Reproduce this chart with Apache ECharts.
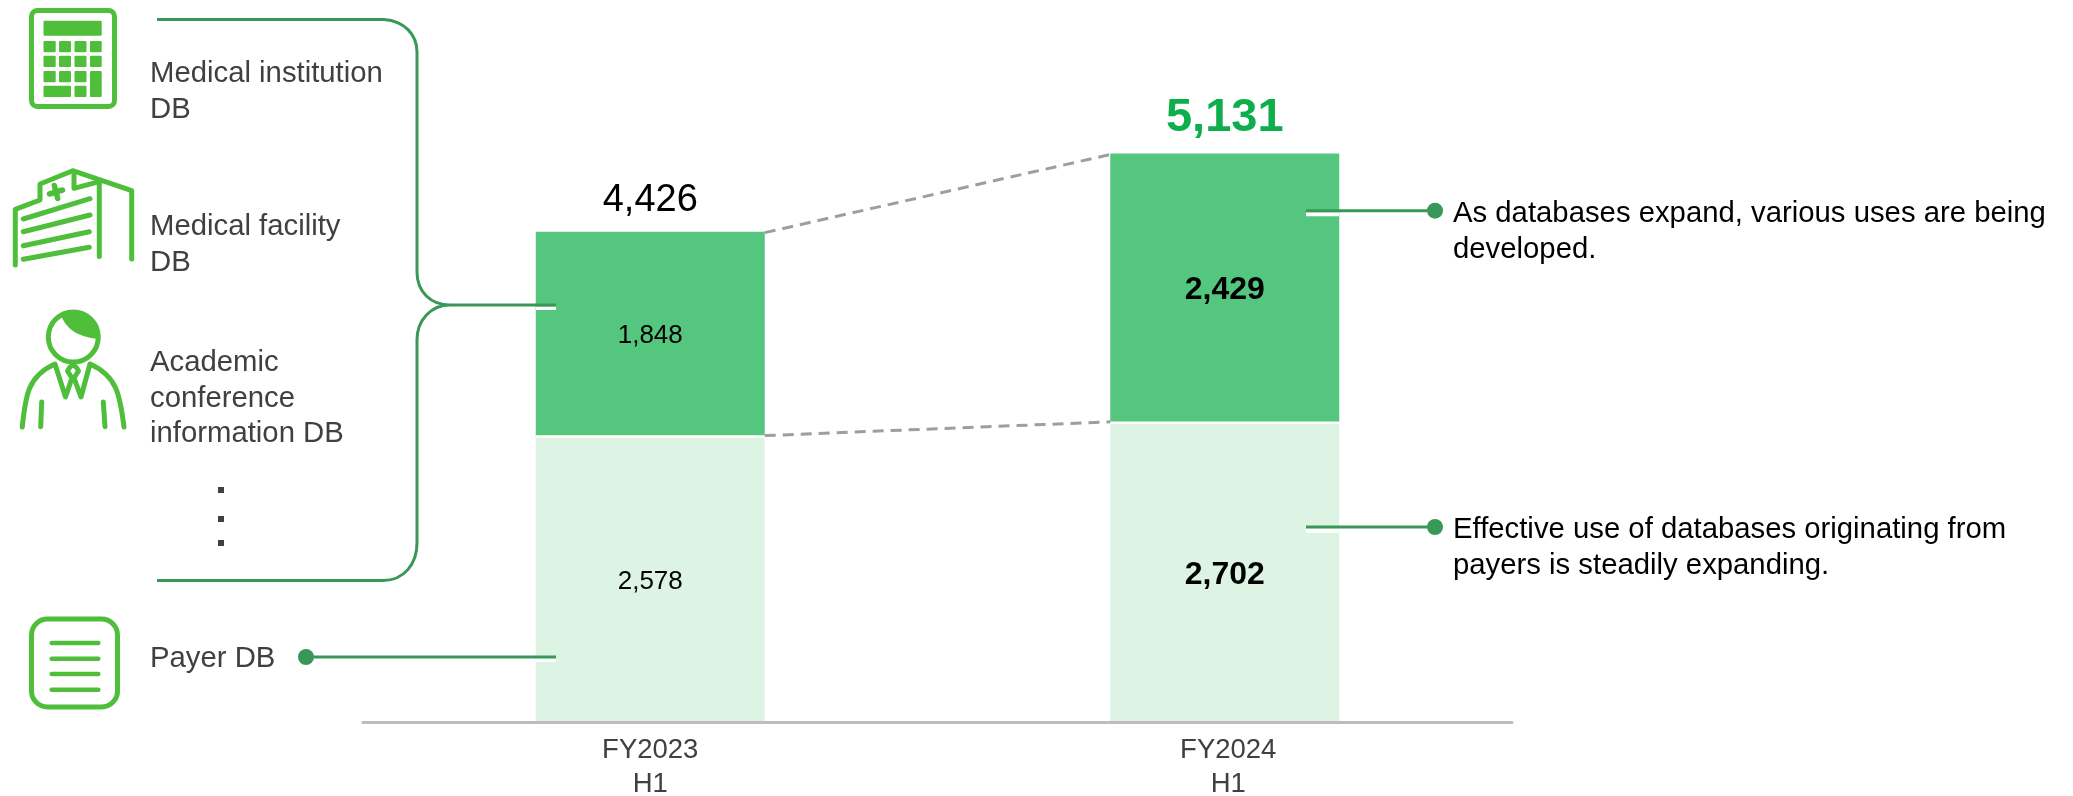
<!DOCTYPE html>
<html lang="en">
<head>
<meta charset="utf-8">
<title>Database revenue by half year</title>
<script src="https://cdn.jsdelivr.net/npm/echarts@6/dist/echarts.min.js"></script>
<style>
  html, body { margin: 0; padding: 0; background: #fff; }
  #chart { width: 2073px; height: 796px; }
</style>
</head>
<body>
<div id="chart"></div>
<script>
// Half-year figures
const categories = ['FY2023\nH1', 'FY2024\nH1'];
const payerDb = [2578, 2702];
const otherDb = [1848, 2429];

// Side captions
const leftCaptions = ['Medical institution\nDB', 'Medical facility\nDB', 'Academic\nconference\ninformation DB', 'Payer DB'];
const rightCaptions = [
  'As databases expand, various uses are being\ndeveloped.',
  'Effective use of databases originating from\npayers is steadily expanding.'
];

const totals = categories.map((_, i) => payerDb[i] + otherDb[i]);

const FONT = '"Liberation Sans", Arial, sans-serif';
const BAR_WIDTH = 229;
const ICON = '#4fbe3a';
const LEAD = '#389858';
const TEXT = '#404040';

const number = v => v.toLocaleString('en-US');

// Values in the later period are set in bold
const barData = values => values.map((v, i) => ({
  value: v,
  label: { fontSize: i === 1 ? 32 : 26, fontWeight: i === 1 ? 'bold' : 'normal' }
}));

const segment = (name, values, color) => ({
  name,
  type: 'bar',
  stack: 'db',
  barWidth: BAR_WIDTH,
  data: barData(values),
  itemStyle: { color },
  label: {
    show: true,
    position: 'inside',
    offset: [0, 2],
    color: '#000',
    fontFamily: FONT,
    formatter: p => number(p.value)
  },
  z: 2
});

// White hairline separating the two segments of each stack
const dividerSeries = {
  type: 'custom',
  coordinateSystem: 'cartesian2d',
  silent: true,
  z: 3,
  data: categories.map((_, i) => [i, payerDb[i]]),
  renderItem(params, api) {
    const p = api.coord([api.value(0), api.value(1)]);
    return {
      type: 'line',
      shape: { x1: p[0] - BAR_WIDTH / 2, y1: p[1], x2: p[0] + BAR_WIDTH / 2, y2: p[1] },
      style: { stroke: '#fff', lineWidth: 2.5, fill: null }
    };
  }
};

// Dashed guides between the tops of matching stack segments
const connectorSeries = {
  type: 'custom',
  coordinateSystem: 'cartesian2d',
  clip: false,
  silent: true,
  z: 3,
  data: [
    [0, totals[0], totals[1]],
    [0, payerDb[0], payerDb[1]]
  ],
  renderItem(params, api) {
    const a = api.coord([0, api.value(1)]);
    const b = api.coord([1, api.value(2)]);
    const nudge = params.dataIndex === 0 ? 1 : -1;
    return {
      type: 'line',
      shape: { x1: a[0] + BAR_WIDTH / 2, y1: a[1] + nudge, x2: b[0] - BAR_WIDTH / 2, y2: b[1] + nudge },
      style: { stroke: '#9e9e9e', lineWidth: 3, lineDash: [11, 7], fill: null }
    };
  }
};

// Transparent points that carry the totals above each stack
const totalSeries = {
  type: 'scatter',
  symbolSize: 1,
  silent: true,
  itemStyle: { color: 'transparent', opacity: 1 },
  z: 4,
  data: [
    { value: totals[0], label: { fontSize: 38, color: '#000', fontWeight: 'normal', distance: 12 } },
    { value: totals[1], label: { fontSize: 47, color: '#0dae4b', fontWeight: 'bold', distance: 11 } }
  ],
  label: { show: true, position: 'top', fontFamily: FONT, formatter: p => number(totals[p.dataIndex]) }
};

const stroke = (color, lineWidth) => ({ stroke: color, lineWidth, fill: null, lineCap: 'round', lineJoin: 'round' });
const line = (x1, y1, x2, y2, color, w, cap) => ({
  type: 'line', shape: { x1, y1, x2, y2 },
  style: { stroke: color, lineWidth: w, lineCap: cap || 'round' }
});
const box = (x, y, width, height, fill, r) => ({
  type: 'rect', shape: { x, y, width, height, r: r || 0 }, style: { fill }
});

// SVG outlines registered as shapes for the graphic component
const shapeOutlines = {
  personHair: 'M61 315 Q68 336 98 339 A25 25 0 0 0 61 315 Z',
  personSuit: 'M22.3 427 C25.5 395 28 376 55 364 L65.5 397 L72 378 L67.5 371 Q73 360 78.5 371 L74 378 L81 397 L90 364 C117 376 120 395 124 427',
  groupBracket: 'M157 19.5 L384 19.5 C404 21 417 34 417 52 L417 272 C417 292 431 305 450 305 C431 305 417 320 417 340 L417 543 C417 564 404 580.5 383 580.5 L157 580.5'
};
Object.keys(shapeOutlines).forEach(name => {
  echarts.graphic.registerShape(name, echarts.graphic.extendPath(shapeOutlines[name], {}));
});

// Calculator icon
const calculatorIcon = () => {
  const cols = [[43.5, 12.2], [59, 12], [74.5, 12], [90, 11.7]];
  const rows = [[41, 11.3], [55.7, 11.3], [71, 11.3]];
  const parts = [
    { type: 'rect', shape: { x: 31.5, y: 10.5, width: 83, height: 96, r: 6 }, style: stroke(ICON, 5) },
    box(43.5, 20.7, 58.2, 15, ICON, 1)
  ];
  rows.forEach(([y, h], ri) => cols.forEach(([x, w], ci) => {
    if (ri === 2 && ci === 3) return;
    parts.push(box(x, y, w, h, ICON, 1));
  }));
  parts.push(box(90, 71, 11.7, 26, ICON, 1));
  parts.push(box(43.5, 85.7, 27.5, 11.3, ICON, 1));
  parts.push(box(74.5, 85.7, 12, 11.3, ICON, 1));
  return parts;
};

// Hospital building icon
const hospitalIcon = () => [
  { type: 'polyline', shape: { points: [[15.3, 265], [15.3, 209.3], [40, 200], [40, 184], [72.7, 170.7], [131.7, 190.7], [131.7, 259]] }, style: stroke(ICON, 5) },
  line(99.3, 256.5, 99.3, 182.7, ICON, 5),
  { type: 'polyline', shape: { points: [[74, 171.7], [74, 188.3], [99.3, 181.7]] }, style: stroke(ICON, 5) },
  line(23.3, 219, 90, 198.7, ICON, 5),
  line(23.3, 231.7, 90, 215, ICON, 5),
  line(23.3, 245.7, 89.3, 231.7, ICON, 5),
  line(23.3, 259.3, 89.3, 247.3, ICON, 5),
  line(49.5, 194, 62.5, 190, ICON, 5.5),
  line(54.3, 185.5, 57.7, 198.5, ICON, 5.5)
];

// Person icon
const personIcon = () => [
  { type: 'circle', shape: { cx: 73.3, cy: 337, r: 25 }, style: stroke(ICON, 5) },
  { type: 'personHair', style: { fill: ICON } },
  { type: 'personSuit', style: stroke(ICON, 5) },
  line(41.7, 402, 40.7, 426.7, ICON, 5),
  line(103.3, 402, 105, 426.7, ICON, 5)
];

// Document icon
const documentIcon = () => [
  { type: 'rect', shape: { x: 31.5, y: 619, width: 86, height: 88, r: 16 }, style: stroke(ICON, 5) },
  ...[643, 658.7, 674, 689.7].map(y => line(51.7, y, 98.3, y, ICON, 4.5))
];

const caption = (text, x, y, fill, lineHeight) => ({
  type: 'text',
  x, y,
  style: {
    text,
    fill,
    font: '29.3px ' + FONT,
    lineHeight,
    align: 'left',
    verticalAlign: 'top'
  }
});

// Leader line with a round end and a white notch cut into the bar below it
const leader = (x1, x2, y, notchX, notchW, notchY, notchH, dotX) => {
  const parts = [
    box(notchX, notchY, notchW, notchH, '#fff'),
    line(x1, y, x2, y, LEAD, 3, 'butt')
  ];
  if (dotX !== undefined) {
    parts.push({ type: 'circle', shape: { cx: dotX, cy: y, r: 8 }, style: { fill: LEAD } });
  }
  return parts;
};

const graphicElements = [
  ...calculatorIcon(),
  ...hospitalIcon(),
  ...personIcon(),
  ...documentIcon(),
  { type: 'groupBracket', style: { stroke: LEAD, lineWidth: 3, fill: null } },
  ...leader(450, 556, 305, 536, 20, 306.5, 3.5),
  ...leader(306, 556, 657, 536, 20, 658.5, 3.5, 306),
  ...leader(1306, 1435, 210.7, 1306, 33, 212.2, 4, 1435),
  ...leader(1306, 1435, 527, 1306, 33, 528.5, 4.5, 1435),
  box(218, 487, 6, 6, TEXT),
  box(218, 516, 6, 6, TEXT),
  box(218, 540, 6, 6, TEXT),
  caption(leftCaptions[0], 150, 56.5, TEXT, 35.5),
  caption(leftCaptions[1], 150, 209.5, TEXT, 35.5),
  caption(leftCaptions[2], 150, 345.5, TEXT, 35.5),
  caption(leftCaptions[3], 150, 641, TEXT, 35.5),
  caption(rightCaptions[0], 1453, 196.5, '#000', 35.5),
  caption(rightCaptions[1], 1453, 512.5, '#000', 35.5)
];

const chart = echarts.init(document.getElementById('chart'));
chart.setOption({
  animation: false,
  backgroundColor: '#fff',
  grid: { left: 363, right: 561, top: 57.1, bottom: 73.5, outerBoundsMode: 'none' },
  xAxis: {
    type: 'category',
    data: [
      categories[0],
      { value: categories[1], textStyle: { padding: [0, 0, 0, 7] } }
    ],
    axisTick: { show: false },
    axisLine: { lineStyle: { color: '#bdbdbd', width: 3 } },
    axisLabel: { color: TEXT, fontFamily: FONT, fontSize: 27.5, lineHeight: 34, margin: 11 },
    z: 5
  },
  yAxis: { type: 'value', min: 0, max: 6000, show: false, splitLine: { show: false } },
  series: [
    segment('Payer DB', payerDb, '#ddf3e4'),
    segment('Other databases', otherDb, '#54c67d'),
    dividerSeries,
    connectorSeries,
    totalSeries
  ],
  graphic: { elements: graphicElements.map(el => ({ ...el, z: 10, silent: true })) }
});
</script>
</body>
</html>
